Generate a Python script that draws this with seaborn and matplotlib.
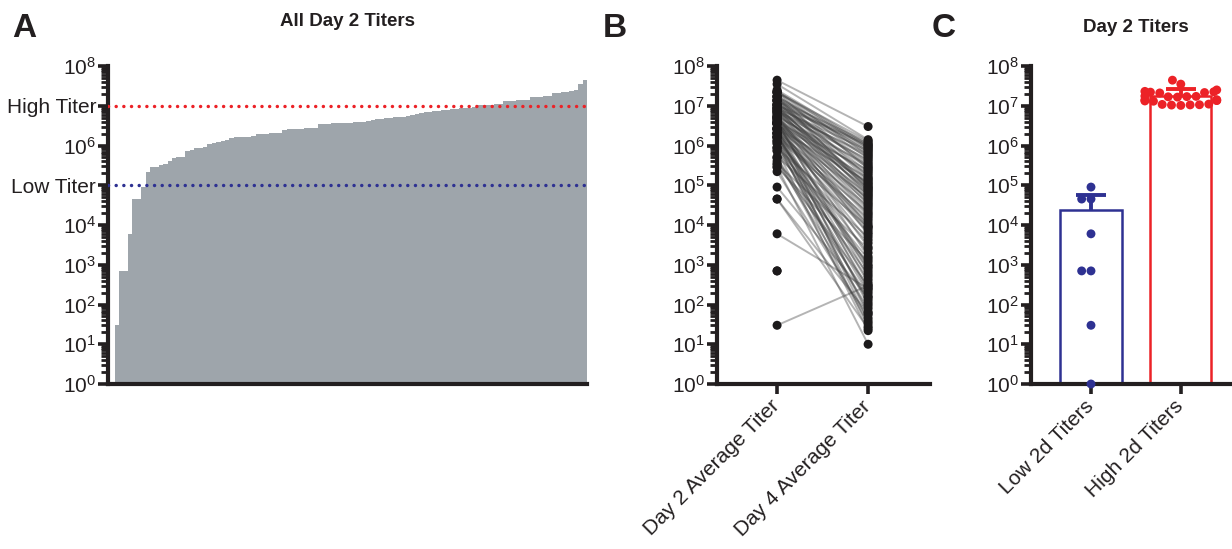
import numpy as np
import pandas as pd
import matplotlib
matplotlib.use("Agg")
import matplotlib.pyplot as plt
from matplotlib.ticker import FixedLocator, FixedFormatter, LogLocator, NullFormatter
import seaborn as sns

# ---------------- data ----------------
# Day 2 average titers, sorted ascending (one per sample)
day2_low = [1, 30, 700, 700, 6000, 45000, 45000, 90000]
day2_mid = [2.2e5,
            2.8e5, 2.9e5,
            3.3e5, 3.5e5,
            4.0e5,
            4.8e5, 5.0e5, 5.2e5,
            7.2e5, 7.5e5,
            8.5e5, 8.8e5, 9.0e5,
            1.1e6, 1.15e6,
            1.25e6, 1.3e6, 1.35e6,
            1.55e6, 1.6e6, 1.6e6, 1.65e6, 1.65e6, 1.7e6,
            1.95e6, 2.0e6, 2.0e6, 2.05e6, 2.1e6, 2.1e6,
            2.5e6, 2.55e6, 2.6e6, 2.6e6, 2.65e6, 2.7e6, 2.7e6, 2.8e6,
            3.4e6, 3.5e6, 3.5e6, 3.6e6, 3.6e6, 3.65e6, 3.7e6,
            3.75e6, 3.8e6, 3.9e6, 4.0e6, 4.2e6, 4.4e6,
            4.6e6, 4.7e6, 4.9e6, 5.0e6, 5.1e6, 5.2e6, 5.3e6, 5.5e6, 5.7e6,
            6.2e6, 6.5e6, 6.8e6, 7.0e6, 7.2e6, 7.4e6, 7.6e6, 7.9e6,
            8.3e6, 8.5e6, 8.6e6, 8.8e6, 9.0e6, 9.3e6]
day2_high = [1.02e7, 1.04e7, 1.05e7, 1.06e7, 1.08e7, 1.1e7,
             1.3e7, 1.32e7, 1.35e7, 1.37e7, 1.4e7, 1.42e7,
             1.65e7, 1.68e7, 1.7e7, 1.72e7, 1.75e7,
             2.1e7, 2.15e7, 2.2e7, 2.25e7, 2.3e7,
             2.5e7, 3.5e7, 4.4e7]

# Day 4 average titers, paired with the Day 2 samples above (NaN = not measured)
day4_low = [np.nan, 300, np.nan, np.nan, 250, 25, 60, 150]
day4_mid = [45, 1200, 10, 300, 2500, 80, 160, 33, 5000, 580, 22, 9000, 1400, 130, 65, 420,
            3500, 28, 190, 15000, 800, 2000, 55, 1000, 21000, 260, 6500, 38, 11000, 110, 30000, 95, 4200,
            13000, 220, 48000, 7500, 1.2e5, 350, 17000, 2800, 60000, 680, 1.5e5, 24000, 900, 36000, 8500,
            2.4e5, 500, 44000, 1600, 80000, 19000,
            1.1e5, 5800, 27000, 3.3e5, 52000, 9500, 2.0e5, 70000, 1.3e5, 4.4e5, 33000, 90000, 6.0e5,
            1.8e5, 65000, 2.8e5, 40000, 7.5e5, 1.05e5, 5.2e5, 85000, 1.0e6, 3.6e5]
day4_high = [56000, 2.2e5, 1.1e6, 4.0e5, 95000, 6.5e5, 1.4e5, 8.0e5, 3.0e5, 1.2e6, 75000, 4.8e5,
             9.0e5, 1.6e5, 7.0e5, 2.6e5, 1.3e6, 5.6e5, 8.5e5, 9.5e5, 1.05e6, 1.4e6, 3.0e6, 1.25e6, 1.15e6]

day2 = day2_low + day2_mid + day2_high
day4 = day4_low + day4_mid + day4_high

panelB_labels = ["Day 2 Average Titer", "Day 4 Average Titer"]
panelC_labels = ["Low 2d Titers", "High 2d Titers"]
major_ticks = [1e0, 1e1, 1e2, 1e3, 1e4, 1e5, 1e6, 1e7, 1e8]
high_cut = 1e7
low_cut = 1e5

# ---------------- style ----------------
sns.set_theme(style="ticks")
plt.rcParams["font.family"] = ["Liberation Sans", "DejaVu Sans"]
plt.rcParams["mathtext.fontset"] = "custom"
plt.rcParams["mathtext.rm"] = "Liberation Sans"
plt.rcParams["mathtext.it"] = "Liberation Sans:italic"
plt.rcParams["mathtext.bf"] = "Liberation Sans:bold"

INK = "#231f20"
GRAY = "#9ea5ab"
RED = "#ec2227"
BLUE = "#2e3192"

W, H = 1232, 549
fig = plt.figure(figsize=(W / 100, H / 100), dpi=100)


def add_ax(l, t, r, b):
    return fig.add_axes([l / W, 1 - b / H, (r - l) / W, (b - t) / H])


def log_label(v):
    return r"$\mathregular{10^{%d}}$" % int(round(np.log10(v)))


def style_axis(ax, labels):
    ax.set_yscale("log")
    ax.set_ylim(1, 1e8)
    ax.yaxis.set_major_locator(FixedLocator(major_ticks))
    ax.yaxis.set_major_formatter(FixedFormatter(labels))
    ax.yaxis.set_minor_locator(LogLocator(base=10, subs=np.arange(2, 10), numticks=20))
    ax.yaxis.set_minor_formatter(NullFormatter())
    for s in ["top", "right"]:
        ax.spines[s].set_visible(False)
    for s in ["left", "bottom"]:
        ax.spines[s].set_linewidth(3.0)
        ax.spines[s].set_color(INK)
    ax.tick_params(axis="y", which="major", length=7, width=2.6, color=INK,
                   labelsize=15, labelcolor=INK, pad=1.5, direction="out")
    ax.tick_params(axis="y", which="minor", length=5, width=2.0, color=INK, direction="out")
    ax.tick_params(axis="x", which="major", length=7, width=2.6, color=INK,
                   labelsize=15, labelcolor=INK, direction="out", pad=7)
    ax.set_xlabel("")
    ax.set_ylabel("")
    ax.set_facecolor("none")


# ---------------- Panel A ----------------
axA = add_ax(108, 66, 587, 384)
dfA = pd.DataFrame({"sample": np.arange(len(day2)), "titer": day2})
sns.barplot(data=dfA, x="sample", y="titer", color=GRAY, width=1.0, linewidth=0,
            saturation=1, errorbar=None, ax=axA)
labelsA = [log_label(v) for v in major_ticks]
labelsA[7] = "High Titer"
labelsA[5] = "Low Titer"
style_axis(axA, labelsA)
axA.set_xlim(-1.0, len(day2) - 0.5)
axA.tick_params(axis="x", which="both", length=0, labelbottom=False)
axA.axhline(high_cut, color=RED, lw=2.5, ls=(0, (0.01, 2.2)), dash_capstyle="round", zorder=5)
axA.axhline(low_cut, color=BLUE, lw=2.5, ls=(0, (0.01, 2.2)), dash_capstyle="round", zorder=5)

# ---------------- Panel B ----------------
axB = add_ax(717, 66, 930, 384)
axB.set_yscale("log")
rows = []
for i, (a, b) in enumerate(zip(day2, day4)):
    if a > 1:
        rows.append({"sample": i, "pos": 0, "titer": a})
    if not np.isnan(b):
        rows.append({"sample": i, "pos": 1, "titer": b})
dfB = pd.DataFrame(rows)
paired = dfB.groupby("sample").filter(lambda g: len(g) == 2)
sns.lineplot(data=paired, x="pos", y="titer", units="sample", estimator=None,
             color="#3c3c3c", alpha=0.38, lw=1.4, ax=axB, zorder=2)
sns.scatterplot(data=dfB, x="pos", y="titer", color="#1c1a1b", s=42, edgecolor="none",
                linewidth=0, ax=axB, zorder=3, legend=False)
style_axis(axB, [log_label(v) for v in major_ticks])
axB.set_xticks([0, 1])
axB.set_xticklabels(panelB_labels, rotation=45, ha="right", va="center", rotation_mode="anchor")
axB.set_xlim(-0.66, 1.68)

# ---------------- Panel C ----------------
axC = add_ax(1031, 66, 1232, 384)
low_vals = [v for v in day2 if v < low_cut]
high_vals = [v for v in day2 if v > high_cut]
dfC = pd.DataFrame({"group": [panelC_labels[0]] * len(low_vals) + [panelC_labels[1]] * len(high_vals),
                    "titer": low_vals + high_vals})
pal = {panelC_labels[0]: BLUE, panelC_labels[1]: RED}
sns.barplot(data=dfC, x="group", y="titer", hue="group", palette=pal, order=panelC_labels,
            fill=False, errorbar=None, width=0.68, linewidth=1.8, legend=False, ax=axC)
stats = dfC.groupby("group")["titer"].agg(["mean", "std"])
for pos, g in enumerate(panelC_labels):
    m, sd = stats.loc[g, "mean"], stats.loc[g, "std"]
    axC.vlines(pos, m, m + sd, color=pal[g], lw=2.8, zorder=4)
    axC.hlines(m + sd, pos - 0.17, pos + 0.17, color=pal[g], lw=2.8, zorder=4)
axC.set_yscale("log")
sns.swarmplot(data=dfC, x="group", y="titer", hue="group", palette=pal, order=panelC_labels,
              size=6.4, legend=False, ax=axC, zorder=5, clip_on=False)
style_axis(axC, [log_label(v) for v in major_ticks])
axC.set_xticks([0, 1])
axC.set_xticklabels(panelC_labels, rotation=45, ha="right", va="center", rotation_mode="anchor")
axC.set_xlim(-0.668, 1.57)

# ---------------- text ----------------
fig.text(12 / W, 1 - 37 / H, "A", fontsize=24, fontweight="bold", color=INK, va="baseline")
fig.text(603 / W, 1 - 37 / H, "B", fontsize=24, fontweight="bold", color=INK, va="baseline")
fig.text(932 / W, 1 - 37 / H, "C", fontsize=24, fontweight="bold", color=INK, va="baseline")
fig.text(348 / W, 1 - 21 / H, "All Day 2 Titers", fontsize=13.5, fontweight="bold",
         color=INK, ha="center", va="center")
fig.text(1136 / W, 1 - 28 / H, "Day 2 Titers", fontsize=13.5, fontweight="bold",
         color=INK, ha="center", va="center")

fig.savefig("out.png", dpi=100, facecolor="white")
